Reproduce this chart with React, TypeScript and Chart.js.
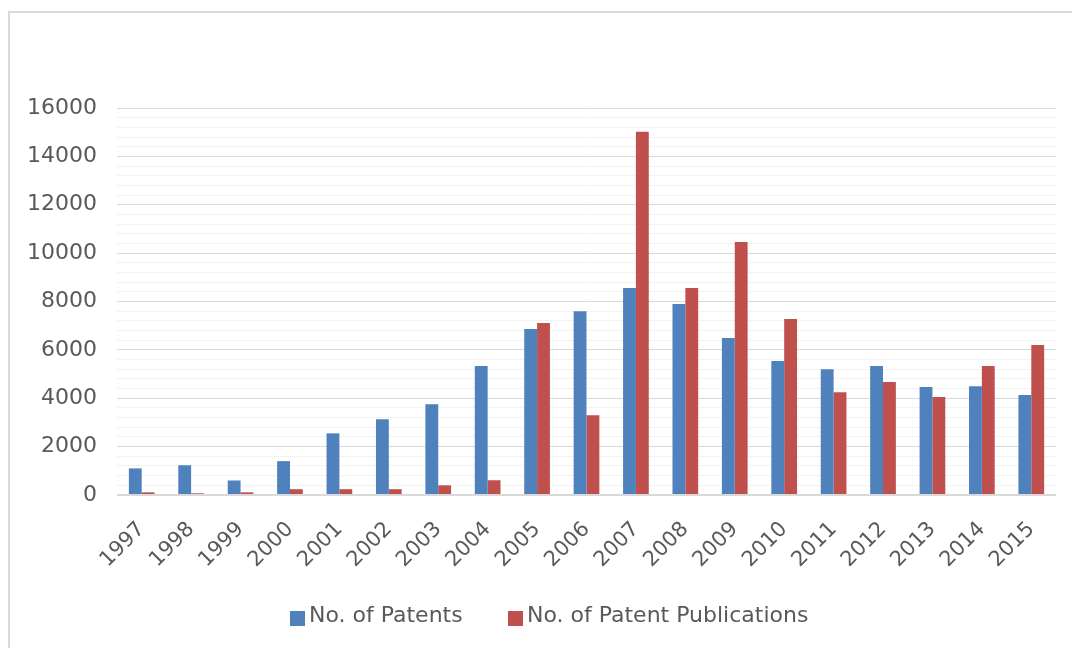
import React, { useEffect, useRef } from 'react';
import { Chart, registerables } from 'chart.js';

Chart.register(...registerables);

const years = ['1997', '1998', '1999', '2000', '2001', '2002', '2003', '2004', '2005', '2006', '2007', '2008', '2009', '2010', '2011', '2012', '2013', '2014', '2015'];
const patents = [1100, 1230, 600, 1400, 2550, 3130, 3750, 5330, 6860, 7600, 8560, 7900, 6490, 5540, 5200, 5330, 4460, 4500, 4130];
const publications = [110, 70, 110, 240, 240, 240, 400, 610, 7110, 3300, 15020, 8560, 10460, 7280, 4250, 4670, 4050, 5330, 6200];
const seriesNames = ['No. of Patents', 'No. of Patent Publications'];
const seriesColors = ['#4f81bd', '#c0504d'];
const majorTicks = [0, 2000, 4000, 6000, 8000, 10000, 12000, 14000, 16000];

const FONT = "'DejaVu Sans', sans-serif";
const TEXT = '#595959';

const framePlugin = {
  id: 'frame',
  beforeDraw(chart: any) {
    const ctx = chart.ctx;
    ctx.save();
    ctx.fillStyle = '#ffffff';
    ctx.fillRect(0, 0, chart.width, chart.height);
    ctx.strokeStyle = '#d9d9d9';
    ctx.lineWidth = 2;
    ctx.beginPath();
    ctx.moveTo(9, chart.height);
    ctx.lineTo(9, 12);
    ctx.lineTo(chart.width, 12);
    ctx.stroke();
    ctx.restore();
  },
};

const legendPlugin = {
  id: 'customLegend',
  afterDraw(chart: any) {
    const ctx = chart.ctx;
    const pos = [
      { box: 290, text: 309 },
      { box: 508, text: 527 },
    ];
    ctx.save();
    ctx.font = `22px ${FONT}`;
    ctx.textBaseline = 'alphabetic';
    ctx.textAlign = 'left';
    chart.data.datasets.forEach((ds: any, i: number) => {
      const p = pos[i];
      ctx.fillStyle = ds.backgroundColor;
      ctx.fillRect(p.box, 611, 15, 15);
      ctx.fillStyle = TEXT;
      ctx.fillText(ds.label, p.text, 622);
    });
    ctx.restore();
  },
};

export default function App() {
  const ref = useRef<HTMLCanvasElement | null>(null);
  useEffect(() => {
    if (!ref.current) return;
    const chart = new Chart(ref.current, {
      type: 'bar',
      data: {
        labels: years,
        datasets: [
          { label: seriesNames[0], data: patents, backgroundColor: seriesColors[0], categoryPercentage: 0.52, barPercentage: 1.0 },
          { label: seriesNames[1], data: publications, backgroundColor: seriesColors[1], categoryPercentage: 0.52, barPercentage: 1.0 },
        ],
      },
      options: {
        responsive: false,
        animation: false,
        devicePixelRatio: 1,
        layout: { padding: { top: 108, right: 16, bottom: 73, left: 0 } },
        plugins: {
          legend: { display: false },
          tooltip: { enabled: false },
          title: { display: false },
        },
        scales: {
          x: {
            grid: { display: false, drawTicks: false },
            border: { display: false },
            ticks: {
              font: { family: FONT, size: 21 },
              color: TEXT,
              minRotation: 45,
              maxRotation: 45,
              padding: 22,
              autoSkip: false,
            },
            afterFit: (scale: any) => { scale.height = 80; },
          },
          y: {
            min: 0,
            max: 16000,
            border: { display: false },
            grid: {
              drawTicks: false,
              color: (c: any) => (c.tick && c.tick.value % 2000 === 0 ? '#d9d9d9' : '#f2f2f2'),
              lineWidth: (c: any) => (c.tick && c.tick.value === 0 ? 2 : 1),
            },
            ticks: {
              stepSize: 400,
              autoSkip: false,
              padding: 20,
              font: { family: FONT, size: 22 },
              color: TEXT,
              callback: (v: any) => (majorTicks.includes(Number(v)) ? String(v) : ''),
            },
            afterFit: (scale: any) => { scale.width = 117; },
          },
        },
      },
      plugins: [framePlugin, legendPlugin],
    });
    return () => chart.destroy();
  }, []);

  return (
    <div style={{ position: 'fixed', left: 0, top: 0, width: 1072, height: 648, overflow: 'hidden', background: '#ffffff' }}>
      <canvas ref={ref} width={1072} height={648} style={{ position: 'absolute', left: 0, top: 0, display: 'block' }} />
    </div>
  );
}
